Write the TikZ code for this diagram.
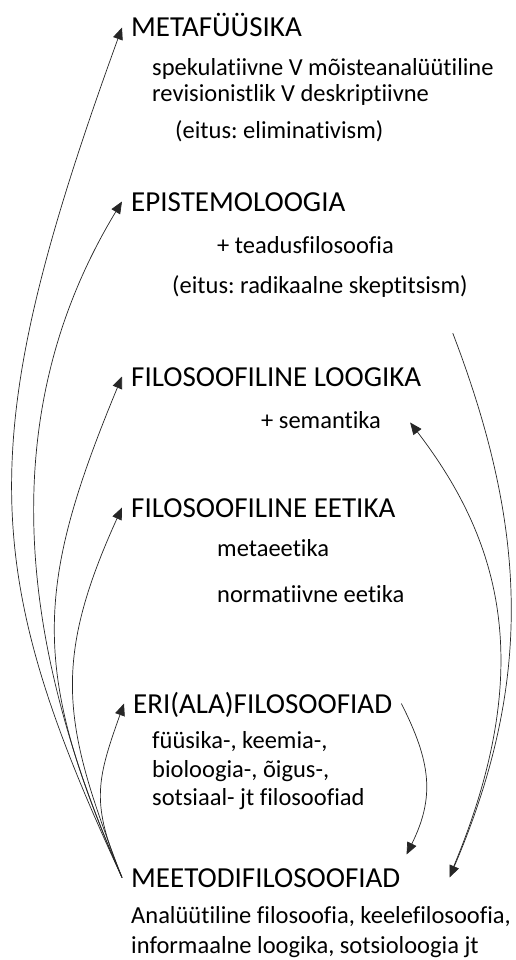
\documentclass[tikz,border=0pt]{standalone}
\usepackage{fontspec}
\setmainfont{Carlito}[Ligatures=NoCommon]
\usepackage{tikz}
\usetikzlibrary{arrows.meta}
\frenchspacing
\newcommand{\hdfont}{\fontsize{29}{34}\selectfont}
\newcommand{\sbfont}{\fontsize{24.5}{28}\selectfont}
\tikzset{
  hdnode/.style={anchor=base west,inner xsep=9pt,inner ysep=0pt,text height=19pt,text depth=0pt,font=\hdfont},
  subnode/.style={anchor=base west,inner sep=0pt,text height=11pt,text depth=0pt,font=\sbfont},
  curvarr/.style={-{Triangle[length=12pt,width=10pt]},line width=0.7pt,black!85},
}
\begin{document}
\begin{tikzpicture}[x=1pt,y=-1pt]
  \useasboundingbox (0,0) rectangle (515,960);
  \node[hdnode] (hMeta) at (122,37) {METAFÜÜSIKA};
  \node[subnode] (tMetaA) at (152,76) {spekulatiivne V mõisteanalüütiline};
  \node[subnode] (tMetaB) at (152,102) {revisionistlik V deskriptiivne};
  \node[subnode] (tMetaC) at (175,139) {(eitus: eliminativism)};
  \node[hdnode] (hEpis) at (122,211) {EPISTEMOLOOGIA};
  \node[subnode] (tEpisA) at (217,253) {+ teadusfilosoofia};
  \node[subnode] (tEpisB) at (172,293) {(eitus: radikaalne skeptitsism)};
  \node[hdnode] (hLoog) at (122,386) {FILOSOOFILINE LOOGIKA};
  \node[subnode] (tSem) at (261,428) {+ semantika};
  \node[hdnode] (hEetika) at (122,517) {FILOSOOFILINE EETIKA};
  \node[subnode] (tEetA) at (217,556) {metaeetika};
  \node[subnode] (tEetB) at (217,602) {normatiivne eetika};
  \node[hdnode] (hEri) at (124,713) {ERI(ALA)FILOSOOFIAD};
  \node[subnode] (tEriA) at (152,748) {füüsika-, keemia-,};
  \node[subnode] (tEriB) at (152,777) {bioloogia-, õigus-,};
  \node[subnode] (tEriC) at (152,805) {sotsiaal- jt filosoofiad};
  \node[hdnode] (hMeetodi) at (122,887) {MEETODIFILOSOOFIAD};
  \node[subnode] (tMeetA) at (131,923) {Analüütiline filosoofia, keelefilosoofia,};
  \node[subnode] (tMeetB) at (131,953) {informaalne loogika, sotsioloogia jt};
  % fan on the left
  \draw[curvarr] (hMeetodi.west) .. controls (-21,569) and (-28,441) .. (hMeta.west);
  \draw[curvarr] (hMeetodi.west) .. controls (22,652) and (-10,419) .. (hEpis.west);
  \draw[curvarr] (hMeetodi.west) .. controls (31,670) and (34,589) .. (hLoog.west);
  \draw[curvarr] (hMeetodi.west) .. controls (63,725) and (51,664) .. (hEetika.west);
  \draw[curvarr] (hMeetodi.west) .. controls (91,804) and (96,782) .. (hEri.west);
  % right side
  \draw[curvarr] ([xshift=-15pt,yshift=-40pt]tEpisB.south east) .. controls (528,530) and (533,682) .. ([xshift=40pt]hMeetodi.east);
  \draw[curvarr] ([xshift=42pt,yshift=6pt]hMeetodi.east) .. controls (538,668) and (501,541) .. ([xshift=29pt]tSem.east);
  \draw[curvarr] (hEri.east) .. controls (431,762) and (435,797) .. ([xshift=-3pt,yshift=23pt]hMeetodi.east);
\end{tikzpicture}
\end{document}
